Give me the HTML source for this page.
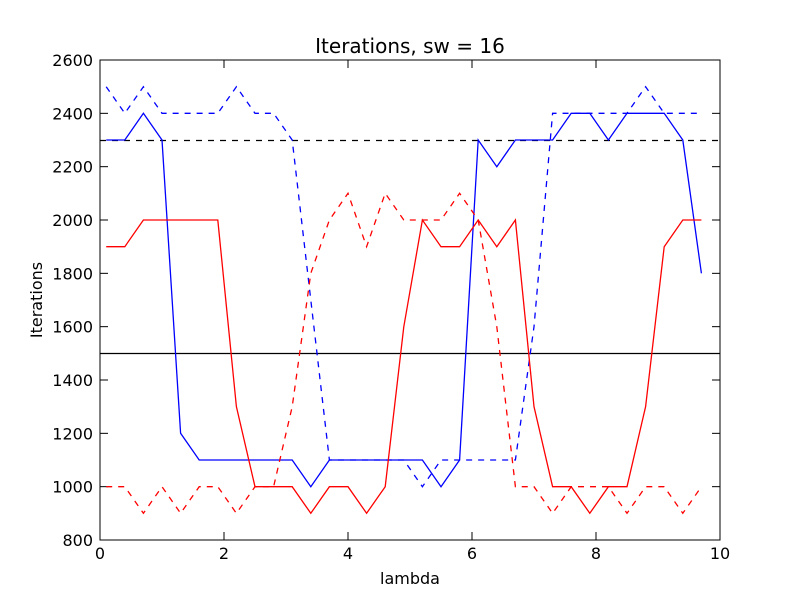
<!DOCTYPE html>
<html><head><meta charset="utf-8"><style>
body{margin:0;background:#fff;}
svg text{font-family:"DejaVu Sans","Liberation Sans",sans-serif;}
</style></head><body>
<svg id="chart" width="800" height="600">
<rect x="0" y="0" width="800" height="600" fill="#fff"/>
<text x="410" y="53" font-size="20" text-anchor="middle">Iterations, sw = 16</text>
<text x="410" y="584" font-size="16" text-anchor="middle">lambda</text>
<text x="42" y="300" font-size="16" text-anchor="middle" transform="rotate(-90 42 300)">Iterations</text>
<g id="ticks"></g>
<g id="plot"></g>
<rect x="100" y="60" width="620" height="480" fill="none" stroke="#000" stroke-width="1"/>
</svg>
<script>
const xs = [0.1,0.4,0.7,1.0,1.3,1.6,1.9,2.2,2.5,2.8,3.1,3.4,3.7,4.0,4.3,4.6,4.9,5.2,5.5,5.8,6.1,6.4,6.7,7.0,7.3,7.6,7.9,8.2,8.5,8.8,9.1,9.4,9.7];
const blueSolid = [2300,2300,2400,2300,1200,1100,1100,1100,1100,1100,1100,1000,1100,1100,1100,1100,1100,1100,1000,1100,2300,2200,2300,2300,2300,2400,2400,2300,2400,2400,2400,2300,1800];
const blueDashed = [2500,2400,2500,2400,2400,2400,2400,2500,2400,2400,2300,1700,1100,1100,1100,1100,1100,1000,1100,1100,1100,1100,1100,1600,2400,2400,2400,2400,2400,2500,2400,2400,2400];
const redSolid = [1900,1900,2000,2000,2000,2000,2000,1300,1000,1000,1000,900,1000,1000,900,1000,1600,2000,1900,1900,2000,1900,2000,1300,1000,1000,900,1000,1000,1300,1900,2000,2000];
const redDashed = [1000,1000,900,1000,900,1000,1000,900,1000,1000,1300,1800,2000,2100,1900,2100,2000,2000,2000,2100,2000,1600,1000,1000,900,1000,1000,1000,900,1000,1000,900,1000];
const refDashed = 2300;
const refSolid = 1500;
const xTicks = [0,2,4,6,8,10];
const yTicks = [800,1000,1200,1400,1600,1800,2000,2200,2400,2600];

const NS="http://www.w3.org/2000/svg";
const X=v=>100+(v-0)/10*620;
const Y=v=>540-(v-800)/1800*480;
const plot=document.getElementById('plot'), tk=document.getElementById('ticks');
function mk(tag,attrs,parent){const e=document.createElementNS(NS,tag);for(const k in attrs)e.setAttribute(k,attrs[k]);parent.appendChild(e);return e;}
xTicks.forEach(t=>{
  mk('line',{x1:X(t),x2:X(t),y1:540,y2:532,stroke:'#000'},tk);
  mk('line',{x1:X(t),x2:X(t),y1:60,y2:68,stroke:'#000'},tk);
  const e=mk('text',{x:X(t),y:559,'font-size':16,'text-anchor':'middle'},tk);e.textContent=t;
  
  
});
yTicks.forEach(t=>{
  mk('line',{x1:100,x2:108,y1:Y(t),y2:Y(t),stroke:'#000'},tk);
  mk('line',{x1:712,x2:720,y1:Y(t),y2:Y(t),stroke:'#000'},tk);
  const e=mk('text',{x:93,y:Y(t)+6,'font-size':16,'text-anchor':'end'},tk);e.textContent=t;
  
  
});
let l=mk('line',{x1:100,x2:720,y1:Math.round(Y(refDashed))+0.5,y2:Math.round(Y(refDashed))+0.5,stroke:'#000','stroke-dasharray':'6,6','stroke-width':1.2},plot);


l=mk('line',{x1:100,x2:720,y1:Math.round(Y(refSolid))+0.5,y2:Math.round(Y(refSolid))+0.5,stroke:'#000','stroke-width':1.2},plot);


function series(vals,color,dash,name){
  const pts=xs.map((x,i)=>X(x).toFixed(1)+','+Y(vals[i]).toFixed(1)).join(' ');
  const p=mk('polyline',{points:pts,fill:'none',stroke:color,'stroke-width':1.3},plot);
  if(dash)p.setAttribute('stroke-dasharray','6,6');
  
  
}
series(blueSolid,'#0000ff',false,'blue-solid-series');
series(blueDashed,'#0000ff',true,'blue-dashed-series');
series(redSolid,'#ff0000',false,'red-solid-series');
series(redDashed,'#ff0000',true,'red-dashed-series');
</script>
</body></html>
